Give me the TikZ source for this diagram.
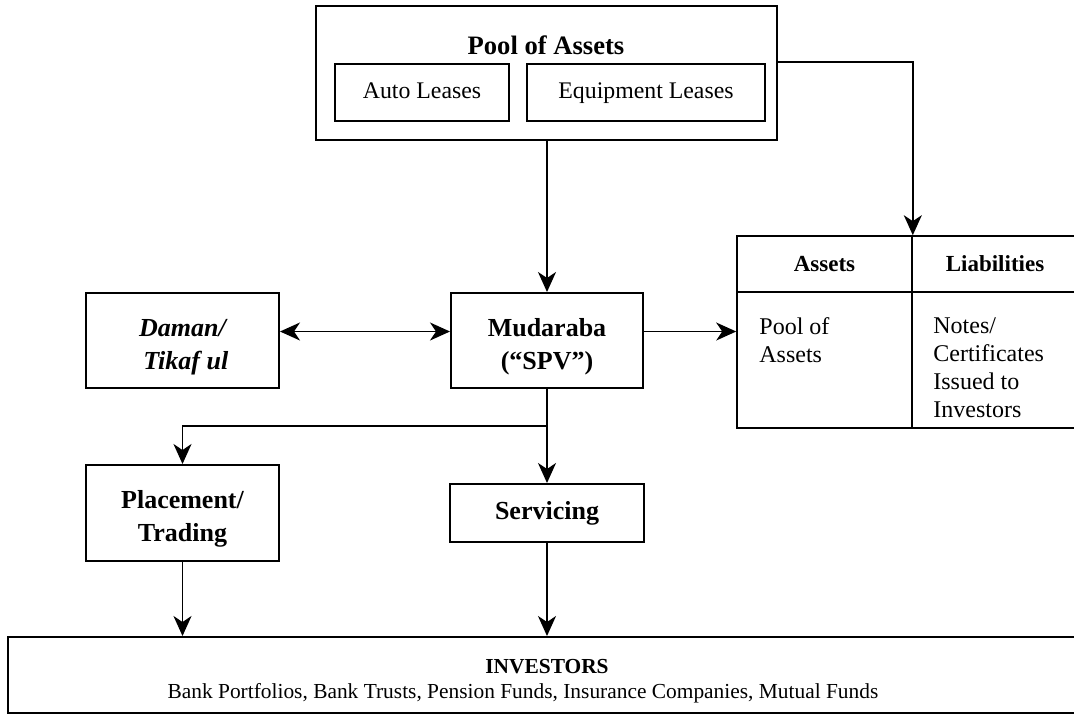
\documentclass[tikz,border=0pt]{standalone}
\usepackage{fontspec}
\setmainfont{Liberation Serif}
\usetikzlibrary{arrows.meta, positioning, calc}

\begin{document}
\begin{tikzpicture}[x=0.5pt, y=-0.5pt,
  box/.style={draw, line width=1pt, inner sep=0pt, align=center},
  bbox/.style={box, font=\fontsize{13}{16.5}\selectfont\bfseries},
  lease/.style={box, minimum height=28.5pt, text height=8.5pt, text depth=2.5pt, font=\fontsize{11.9}{14}\selectfont},
  cell/.style={draw, line width=0.8pt, inner sep=0pt, align=center},
  arr/.style={line width=0.8pt, -{Stealth[length=10pt, width=9pt, inset=3pt]}},
  darr/.style={line width=0.8pt, {Stealth[length=10pt, width=9pt, inset=3pt]}-{Stealth[length=10pt, width=9pt, inset=3pt]}}]
  \useasboundingbox (0,0) rectangle (1074,714);
  % Pool of assets
  \node[box, minimum width=230.5pt, minimum height=67pt] (pool) at (546.5,73) {};
  \node[font=\fontsize{13.3}{16}\selectfont\bfseries] (pooltitle) at (546,45) {Pool of Assets};
  \node[lease, minimum width=87pt] (auto) at (422,92.5) {Auto Leases};
  \node[lease, minimum width=119pt] (equip) at (646,92.5) {Equipment Leases};
  % SPV and takaful
  \node[bbox, minimum width=96pt, minimum height=47.5pt, text height=31pt, text depth=2.5pt] (spv) at (547,340.5) {Mudaraba\\(“SPV”)};
  \node[bbox, minimum width=96.5pt, minimum height=47.5pt, text height=31pt, text depth=2.5pt] (daman) at (182.5,340.5) {\itshape Daman/\\\itshape \ Tikaf ul};
  % Balance sheet
  \node[cell, minimum width=87.5pt, minimum height=28pt, font=\fontsize{11.5}{14}\selectfont\bfseries] (asshd) at (824.5,264) {Assets};
  \node[cell, minimum width=83pt, minimum height=28pt, font=\fontsize{11.5}{14}\selectfont\bfseries] (liabhd) at (995,264) {Liabilities};
  \node[cell, minimum width=87.5pt, minimum height=68pt] (assbody) at (824.5,360) {};
  \node[cell, minimum width=83pt, minimum height=68pt] (liabbody) at (995,360) {};
  \node[anchor=north west, inner sep=0pt, align=left, font=\fontsize{12}{14}\selectfont] (asstxt) at (759,317) {Pool of\\Assets};
  \node[anchor=north west, inner sep=0pt, align=left, font=\fontsize{12}{14}\selectfont] (liabtxt) at (933,317) {Notes/\\Certificates\\Issued to\\Investors};
  % Placement, servicing, investors
  \node[bbox, minimum width=96.5pt, minimum height=48pt, text height=31pt, text depth=2.5pt] (place) at (182.5,513) {Placement/\\Trading};
  \node[bbox, minimum width=97pt, minimum height=29pt] (serv) at (547,513) {Servicing};
  \node[box, minimum width=535pt, minimum height=38pt] (inv) at (543,675) {};
  \node[font=\fontsize{10.7}{13}\selectfont\bfseries] (invtitle) at (547,667) {INVESTORS};
  \node[font=\fontsize{10.7}{13}\selectfont] (invlist) at (523,693) {Bank Portfolios, Bank Trusts, Pension Funds, Insurance Companies, Mutual Funds};
  % connectors
  \coordinate (poolout) at (777,62);
  \coordinate (split) at (547,426);
  \draw[arr] (spv.north |- pool.south) -- (spv.north);
  \draw[arr] (poolout) -| (asshd.north east);
  \draw[darr] ([yshift=4.5pt]daman.east) -- ([yshift=4.5pt]spv.west);
  \draw[arr] ([yshift=4.5pt]spv.east) -- ([yshift=4.5pt]spv.east -| assbody.west);
  \draw[arr] (spv.south) -- (serv.north);
  \draw[arr] (split) -| (place.north);
  \draw[arr] (place.south) -- (place.south |- inv.north);
  \draw[arr] (serv.south) -- (serv.south |- inv.north);
\end{tikzpicture}
\end{document}
